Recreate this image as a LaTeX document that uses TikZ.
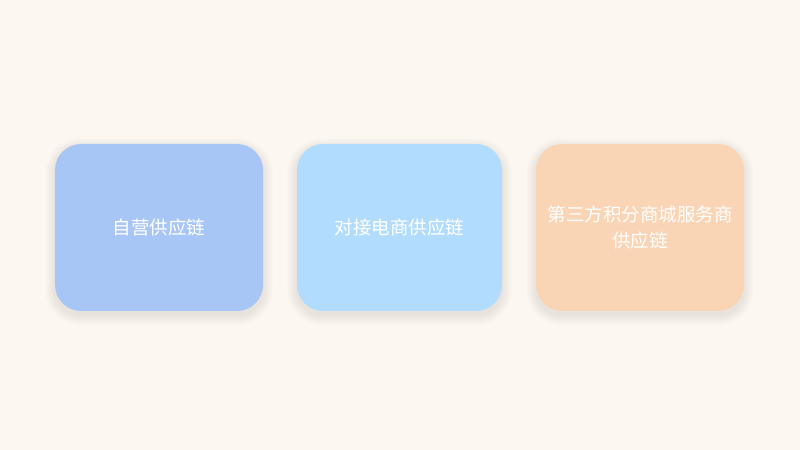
\documentclass[tikz,border=0pt]{standalone}
\usepackage{fontspec}
\usepackage{xcolor}
\usepackage{tikz}
\usetikzlibrary{backgrounds}
\newfontfamily\cjk{Noto Sans CJK SC}
\definecolor{bgcream}{HTML}{FCF8F1}
\definecolor{ownblue}{HTML}{A8C6F5}
\definecolor{ecomblue}{HTML}{B2DCFD}
\definecolor{thirdorange}{HTML}{F9D4B5}

\begin{document}
\begin{tikzpicture}[x=1bp,y=1bp]
\tikzstyle{chainbox} =[rectangle, rounded corners=26bp, minimum width=208bp, minimum height=167bp, inner sep=0pt, align=center, text=white, font=\cjk\fontsize{18.5bp}{26bp}\selectfont]

\useasboundingbox (0,0) rectangle (800,450);

\node[chainbox,fill=ownblue](own) at (159,222.5){自营供应链};
\node[chainbox,fill=ecomblue,minimum width=205bp](ecom) at (399.5,222.5){对接电商供应链};
\node[chainbox,fill=thirdorange](third) at (640,222.5){第三方积分商城服务商\\供应链};

% soft shadows under the boxes
\begin{scope}[on background layer]
\fill[bgcream] (0,0) rectangle (800,450);
\foreach \b in {own,ecom,third}
  \foreach \s in {1,...,10}
    \fill[black,opacity=0.007,rounded corners=26bp+\s bp]
      ([shift={(-\s bp,-\s bp-4bp)}]\b.south west) rectangle ([shift={(\s bp,\s bp-4bp)}]\b.north east);
\end{scope}
\end{tikzpicture}
\end{document}
